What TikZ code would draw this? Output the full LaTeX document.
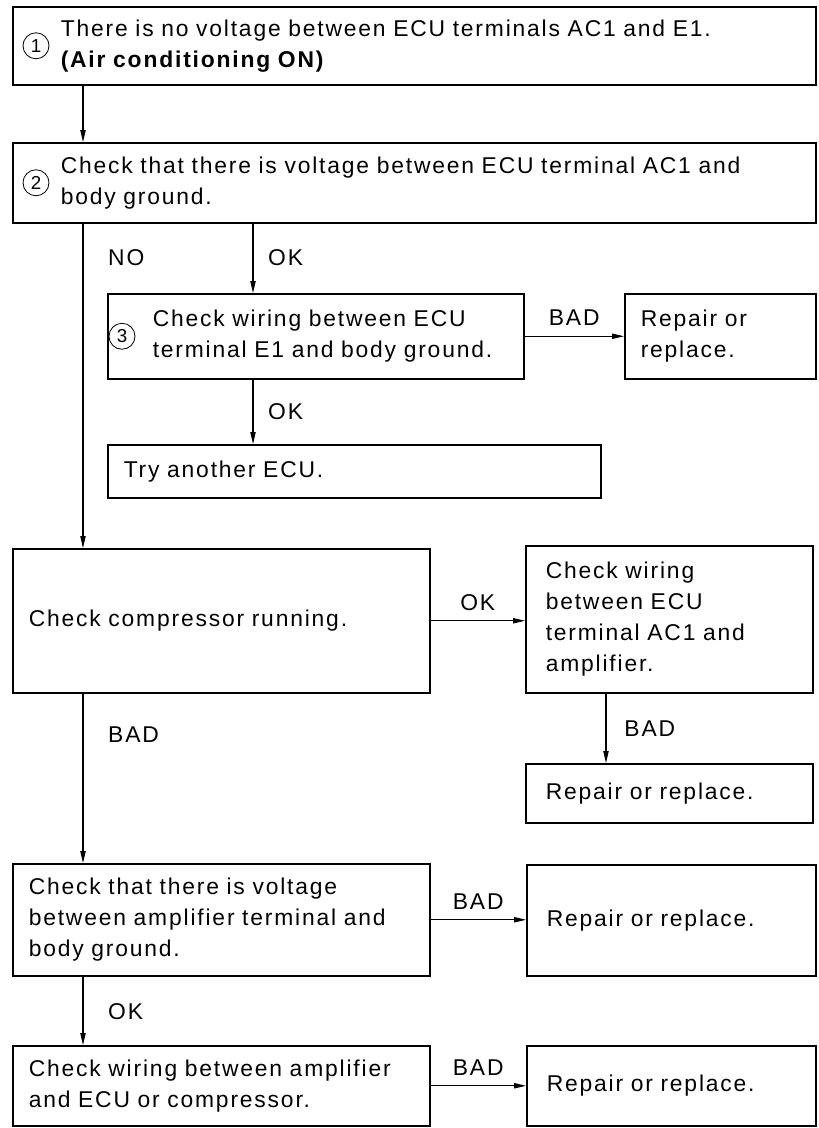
\documentclass[tikz,border=0pt]{standalone}
\usepackage{fontspec}
\setmainfont{Liberation Sans}[LetterSpace=8]
\usetikzlibrary{arrows.meta, positioning}

\begin{document}
\begin{tikzpicture}[x=0.3mm, y=-0.3mm,
    font=\fontsize{19.5}{26.5}\selectfont,
    box/.style={draw, line width=1.3pt, anchor=north west, align=left, inner ysep=0pt},
    num/.style={circle, draw, line width=0.7pt, inner sep=0pt, minimum size=7.8mm, font=\fontsize{16}{16}\selectfont},
    arrow/.style={-{Triangle[length=3.6mm, width=1.6mm]}, line width=0.9pt},
    lbl/.style={anchor=west, inner sep=0pt}
]
\useasboundingbox (0,0) rectangle (818,1128);

% Top of the chart
\node[box, text width=212.1mm, inner xsep=14.4mm, minimum height=23.4mm] (first) at (12,6)
    {There is no voltage between ECU terminals AC1 and E1.\\\textbf{(Air conditioning ON)}};
\node[num] (n1) at ([xshift=7.2mm]first.west) {1};

\node[box, text width=212.1mm, inner xsep=14.4mm, minimum height=24mm] (acgnd) at (12,142)
    {Check that there is voltage between ECU terminal AC1 and\\body ground.};
\node[num] (n2) at ([xshift=7.2mm]acgnd.west) {2};

% OK branch of step 2
\node[box, text width=115.8mm, inner xsep=4.5mm, minimum height=25.5mm] (eground) at (107,293)
    {\hspace*{9mm}Check wiring between ECU\\\hspace*{9mm}terminal E1 and body ground.};
\node[num] (n3) at ([xshift=4.5mm]eground.west) {3};
\node[box, text width=47.7mm, inner xsep=4.8mm, minimum height=25.5mm] (fixA) at (624,293)
    {Repair or\\replace.};
\node[box, text width=138.3mm, inner xsep=4.8mm, minimum height=15.9mm] (newecu) at (107,444)
    {Try another ECU.};

% Compressor
\node[box, text width=115.5mm, inner xsep=4.8mm, minimum height=43.2mm] (comp) at (12,548)
    {Check compressor running.};
\node[box, text width=74.1mm, inner xsep=6mm, minimum height=44.1mm] (acamp) at (525,545)
    {Check wiring\\between ECU\\terminal AC1 and\\amplifier.};
\node[box, text width=74.1mm, inner xsep=6mm, minimum height=17.7mm] (fixB) at (525,763)
    {Repair or replace.};

% Amplifier
\node[box, text width=115.5mm, inner xsep=4.8mm, minimum height=33.6mm] (ampvolt) at (12,863)
    {Check that there is voltage\\between amplifier terminal and\\body ground.};
\node[box, text width=74.7mm, inner xsep=6mm, minimum height=33.3mm] (fixC) at (526,864)
    {Repair or replace.};
\node[box, text width=115.5mm, inner xsep=4.8mm, minimum height=24mm] (ampwire) at (12,1045)
    {Check wiring between amplifier\\and ECU or compressor.};
\node[box, text width=74.7mm, inner xsep=6mm, minimum height=24mm] (fixD) at (526,1045)
    {Repair or replace.};

% Connectors
\coordinate (trunk) at (83,0);
\coordinate (okline) at (253,0);
\coordinate (badline) at (606,0);

\draw[arrow] (first.south -| trunk) -- (acgnd.north -| trunk);
\draw[arrow] (acgnd.south -| trunk) -- (comp.north -| trunk);
\draw[arrow] (acgnd.south -| okline) -- (eground.north -| okline);
\draw[arrow] (eground.east) -- node[above=5pt] {BAD} (fixA.west);
\draw[arrow] (eground.south -| okline) -- (newecu.north -| okline);
\draw[arrow] (comp.east) -- node[above=5pt] {OK} (comp.east -| acamp.west);
\draw[arrow] (acamp.south -| badline) -- node[right=12pt] {BAD} (fixB.north -| badline);
\draw[arrow] (comp.south -| trunk) -- (ampvolt.north -| trunk);
\draw[arrow] (ampvolt.east) -- node[above=5pt] {BAD} (ampvolt.east -| fixC.west);
\draw[arrow] (ampvolt.south -| trunk) -- (ampwire.north -| trunk);
\draw[arrow] (ampwire.east) -- node[above=5pt] {BAD} (fixD.west);

% Branch labels
\node[lbl] (lno) at (108,258) {NO};
\node[lbl] (lok1) at (268,258) {OK};
\node[lbl] (lok2) at (268,412) {OK};
\node[lbl] (lbad) at (108,735) {BAD};
\node[lbl] (lok3) at (108,1012) {OK};

\end{tikzpicture}
\end{document}
